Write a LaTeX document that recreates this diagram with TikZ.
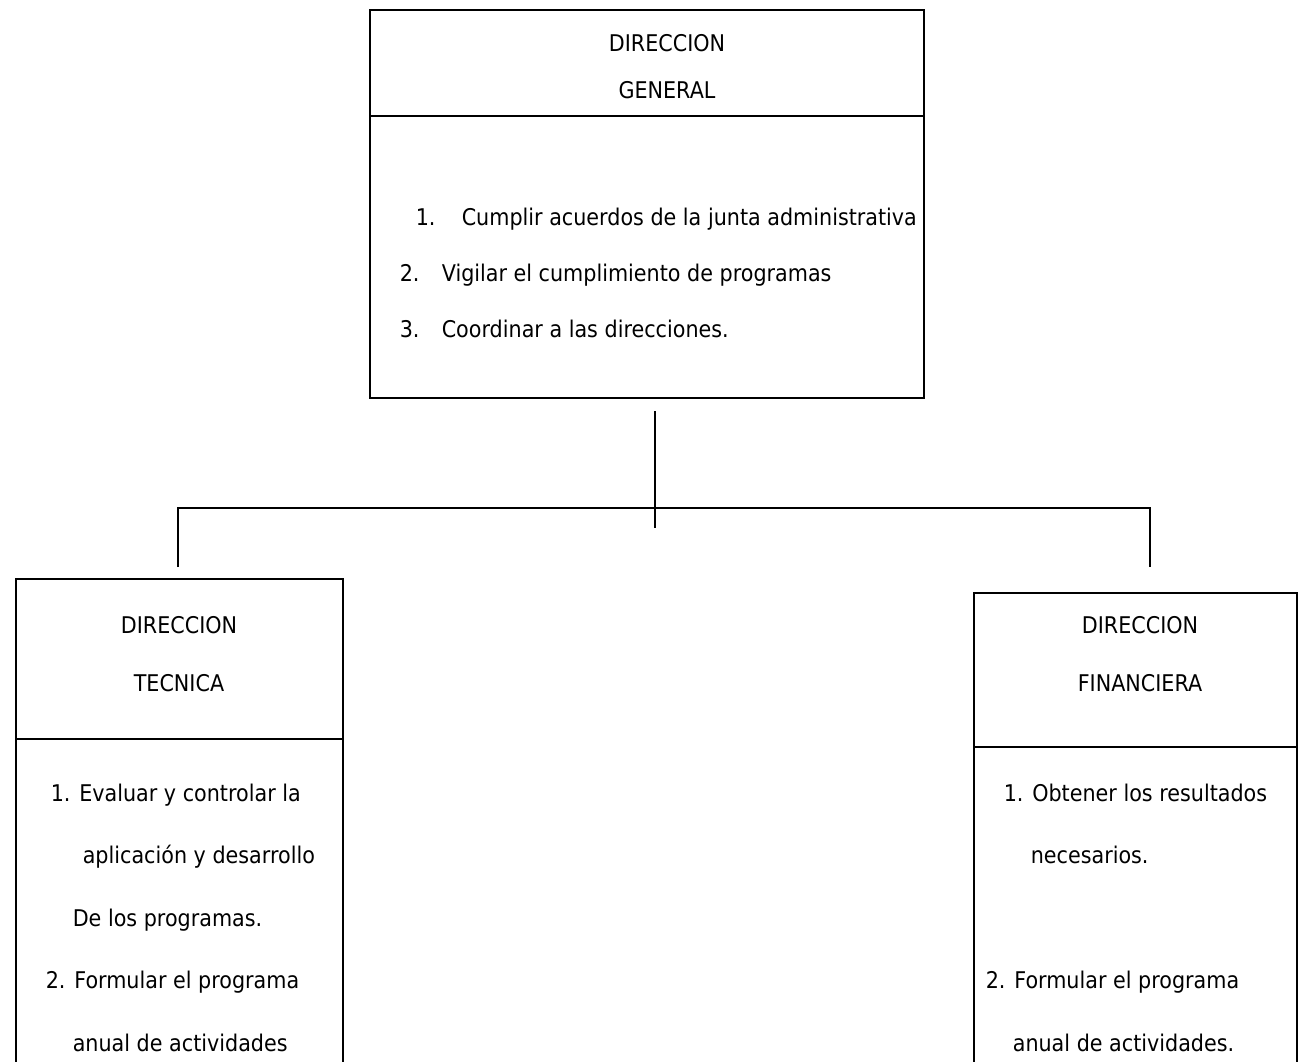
\documentclass[tikz,border=0pt]{standalone}
\usepackage{fontspec}
\setmainfont{DejaVu Sans}[FakeStretch=0.9]
\usetikzlibrary{positioning}

\begin{document}
\begin{tikzpicture}[x=1pt,y=-1pt,line width=1.6pt,
		box/.style={draw,rectangle,inner sep=0pt,outer sep=0pt},
		title/.style={inner sep=0pt,align=center,font=\fontsize{23}{#1}\selectfont},
		items/.style={inner sep=0pt,align=left,anchor=base west,font=\fontsize{23}{#1}\selectfont}]
		\useasboundingbox (0,0) rectangle (1299,1062);
		\clip (0,0) rectangle (1299,1062);
		
		% direccion general
		\node[box, minimum width=554, minimum height=106] (gen) at (647,63) {};
		\node[box, minimum width=554, minimum height=282, below=0pt of gen] (genbody) {};
		\node[title=47] (gentitle) at (667,67) {DIRECCION\\GENERAL};
		\node[items=56] (genitems) at (399,337) {\hspace*{16pt}\makebox[46pt][l]{1.}Cumplir acuerdos de la junta administrativa\\
			\makebox[42pt][l]{2.}Vigilar el cumplimiento de programas\\
			\makebox[42pt][l]{3.}Coordinar a las direcciones.};
		
		% direccion tecnica
		\node[box, minimum width=327, minimum height=160] (tec) at (179.5,659) {};
		\node[box, minimum width=327, minimum height=336, below=0pt of tec] (tecbody) {};
		\node[title=58] (tectitle) at (179,654) {DIRECCION\\TECNICA};
		\node[items=62.5] (tecitems) at (45,1051) {\hspace*{5pt}1. Evaluar y controlar la\\
			\hspace*{37pt}aplicación y desarrollo\\
			\hspace*{27pt}De los programas.\\
			2. Formular el programa\\
			\hspace*{27pt}anual de actividades};
		
		% direccion financiera
		\node[box, minimum width=323, minimum height=154] (fin) at (1135.5,670) {};
		\node[box, minimum width=323, minimum height=328, below=0pt of fin] (finbody) {};
		\node[title=58] (fintitle) at (1140,654) {DIRECCION\\FINANCIERA};
		\node[items=62.5] (finitems) at (985,1051) {\hspace*{18pt}1. Obtener los resultados\\
			\hspace*{45pt}necesarios.\\
			\mbox{}\\
			2. Formular el programa\\
			\hspace*{27pt}anual de actividades.};
		
		% lineas de mando
		\coordinate (drop) at (655,411);
		\coordinate (join) at (655,528);
		\coordinate (tecstub) at (178,567);
		\coordinate (finbus) at (1150,508);
		\coordinate (finstub) at (1150,567);
		\draw (drop) -- (join);
		\draw (tecstub) |- (finbus) -- (finstub);
	\end{tikzpicture}
\end{document}
